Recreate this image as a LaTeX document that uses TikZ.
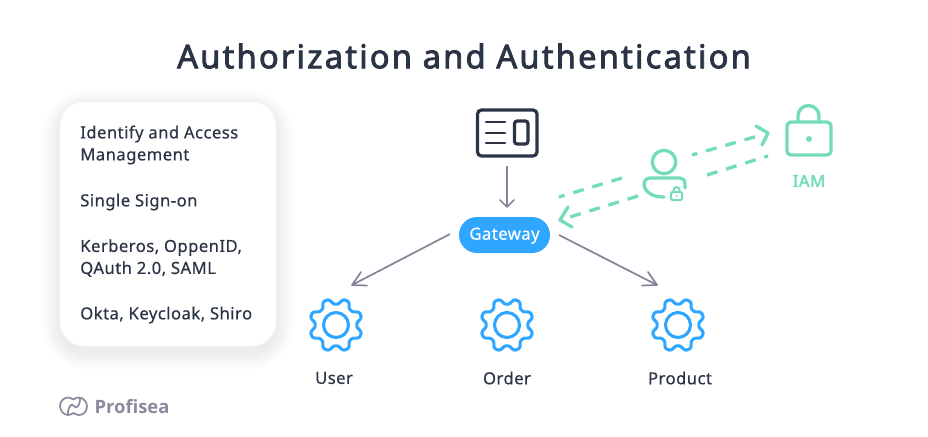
\documentclass[tikz,border=0pt]{standalone}
\usepackage{fontspec}
\setmainfont{Noto Sans}
\newfontfamily\titlefont[FakeBold=2.5, LetterSpace=6.7]{Noto Sans}
\newfontfamily\bodyfont[FakeBold=0.4, LetterSpace=2.7]{Noto Sans}
\newfontfamily\iamfont[FakeBold=2.5, LetterSpace=3]{Noto Sans}
\newfontfamily\logofont{Open Sans}
\definecolor{inkdark}{HTML}{2B3445}
\definecolor{arrowgray}{HTML}{86849A}
\definecolor{gatewayblue}{HTML}{2FA6FF}
\definecolor{mintgreen}{HTML}{74DDB7}
\definecolor{logogray}{HTML}{8A8A9E}
\begin{document}
\begin{tikzpicture}[x=0.75pt, y=-0.75pt]
  \tikzstyle{cardtext}=[anchor=west, align=left, inner sep=0pt, text=inkdark, font=\bodyfont\fontsize{12.5}{16.5}\selectfont]
  \tikzstyle{svclabel}=[inner sep=0pt, text=inkdark, font=\bodyfont\fontsize{12.5}{16}\selectfont]
  \tikzstyle{flow}=[arrowgray, line width=1.3pt]
  \tikzstyle{tip}=[line cap=round, line join=round]
  \tikzstyle{mint}=[mintgreen, line width=2.5pt, line join=round, line cap=round]
  \tikzstyle{mintdash}=[mintgreen, line width=2.5pt, dash pattern=on 8.2pt off 6.8pt]
  \tikzstyle{gear}=[gatewayblue, line width=2.3pt, line join=round]
  \useasboundingbox (0, 0) rectangle (928, 436);

\node[inner sep=0pt, text=inkdark, font=\titlefont\fontsize{24.5}{30}\selectfont] (title) at (464, 56) {Authorization and Authentication};

% card with soft shadow
\foreach \s in {1,...,12}
  \fill[inkdark, opacity=0.007, rounded corners={(18+1.5*\s)*1pt}] ({60-1.5*\s}, {102+6-1.5*\s}) rectangle ({276+1.5*\s}, {346+6+1.5*\s});
\fill[white, rounded corners=18pt] (60, 102) rectangle (276, 346);
\node[cardtext] (iam) at (80, 145) {Identify and Access\\Management};
\node[cardtext] (sso) at (80, 202) {Single Sign-on};
\node[cardtext] (proto) at (80, 258) {Kerberos, OppenID,\\QAuth 2.0, SAML};
\node[cardtext] (tools) at (80, 315) {Okta, Keycloak, Shiro};

% client screen
\draw[inkdark, line width=2.4pt, rounded corners=3pt] (477.5, 110) rectangle (537, 156);
\draw[inkdark, line width=2.4pt, rounded corners=2pt] (514.5, 121) rectangle (528, 144);
\draw[inkdark, line width=2pt, line cap=round] (486, 122) -- (505, 122);
\draw[inkdark, line width=2pt, line cap=round] (486, 133) -- (505, 133);
\draw[inkdark, line width=2pt, line cap=round] (486, 143) -- (505, 143);

\node[fill=gatewayblue, text=white, rounded corners=13.5pt, minimum width=68.25pt, minimum height=27pt, inner sep=0pt, text height=8.5pt, text depth=1.5pt, font=\bodyfont\fontsize{12.5}{14}\selectfont] (gateway) at (504.5, 235) {Gateway};

\coordinate (screenout) at (507, 166);
\coordinate (gatein) at (507, 207);
\draw[flow] (screenout) -- (gatein);
\draw[flow, tip] (500, 200) -- (gatein) -- (514, 200);

% services
\foreach \gx/\gname in {336/gearuser, 507/gearorder, 678/gearproduct} {
  \coordinate (\gname) at (\gx, 325);
  \draw[gear] plot[smooth cycle, domain=0:356.25, samples=96] ({\gx+(23.7-2.9*tanh(1.5*cos(8*\x))/tanh(1.5))*cos(\x)}, {325+(23.7-2.9*tanh(1.5*cos(8*\x))/tanh(1.5))*sin(\x)});
  \draw[gear] (\gname) circle[radius=12.5];
}
\node[svclabel] (user) at (334, 378) {User};
\node[svclabel] (order) at (507, 378) {Order};
\node[svclabel] (product) at (680, 378) {Product};

\coordinate (gateleft) at (450, 234);
\coordinate (userin) at (352, 285);
\draw[flow] (gateleft) -- (userin);
\draw[flow, tip] (361, 272) -- (userin) -- (367, 285.5);

\coordinate (gateright) at (559, 235);
\coordinate (productin) at (657, 285);
\draw[flow] (gateright) -- (productin);
\draw[flow, tip] (648, 272) -- (productin) -- (642, 285.5);

% IAM lock
\draw[mint, rounded corners=3pt] (787, 122) rectangle (831, 155);
\draw[mint] (798, 122) -- (798, 116) arc[start angle=180, end angle=360, radius=10.5] -- (819, 122);
\fill[mintgreen] (809, 139) circle[radius=3];
\node[inner sep=0pt, text=mintgreen, font=\iamfont\fontsize{12.5}{14}\selectfont] (iamlabel) at (809, 181) {IAM};

% user with small lock
\draw[mint] (664, 162) circle[radius=11.7];
\draw[mint] (685, 188) -- (685, 184) .. controls (685, 180) and (683, 178) .. (680, 178) -- (650, 178) .. controls (640, 178) and (641, 197) .. (664, 197);
\draw[mintgreen, line width=1.5pt, rounded corners=1pt] (671, 192) rectangle (682, 200);
\draw[mintgreen, line width=1.5pt] (673.5, 192) -- (673.5, 190) arc[start angle=180, end angle=360, radius=3] -- (679.5, 192);
\fill[mintgreen] (676.5, 196) circle[radius=1.1];

% token flows
\coordinate (uptip) at (768, 133);
\coordinate (upstart) at (755, 136.8);
\coordinate (upend) at (692, 155);
\draw[mintdash] (upstart) -- (upend);
\draw[mint] (756, 126) -- (uptip) -- (762, 145);
\coordinate (backstart) at (707, 175);
\coordinate (backend) at (768, 156);
\draw[mintdash] (backstart) -- (backend);
\coordinate (gostart) at (622, 178);
\coordinate (goend) at (559, 197);
\draw[mintdash] (gostart) -- (goend);
\coordinate (downstart) at (638, 196);
\coordinate (downend) at (560, 220);
\draw[mintdash] (downstart) -- (downend);
\draw[mint] (568, 207) -- (downend) -- (572, 227);

% logo
\draw[logogray, line width=1.3pt, line join=round] (73.5, 399.5) .. controls (71, 398) and (69, 397.5) .. (68, 397.5) .. controls (63, 397.5) and (60, 402) .. (60, 406) .. controls (60, 411) and (64, 415) .. (68, 415) .. controls (70, 415) and (72, 414) .. (73.5, 413) .. controls (75, 414) and (77, 415) .. (79, 415) .. controls (84, 415) and (87, 411) .. (87, 406) .. controls (87, 402) and (83, 397.5) .. (79, 397.5) .. controls (77, 397.5) and (75, 398) .. cycle;
\draw[logogray, line width=1.3pt] (68, 414.5) .. controls (68, 405) and (72, 403) .. (74, 406) .. controls (76, 409) and (80, 407) .. (80, 398);
\node[inner sep=0pt, text=logogray, font=\logofont\bfseries\fontsize{13.8}{15}\selectfont] (logo) at (132, 407) {Profisea};
\end{tikzpicture}
\end{document}
